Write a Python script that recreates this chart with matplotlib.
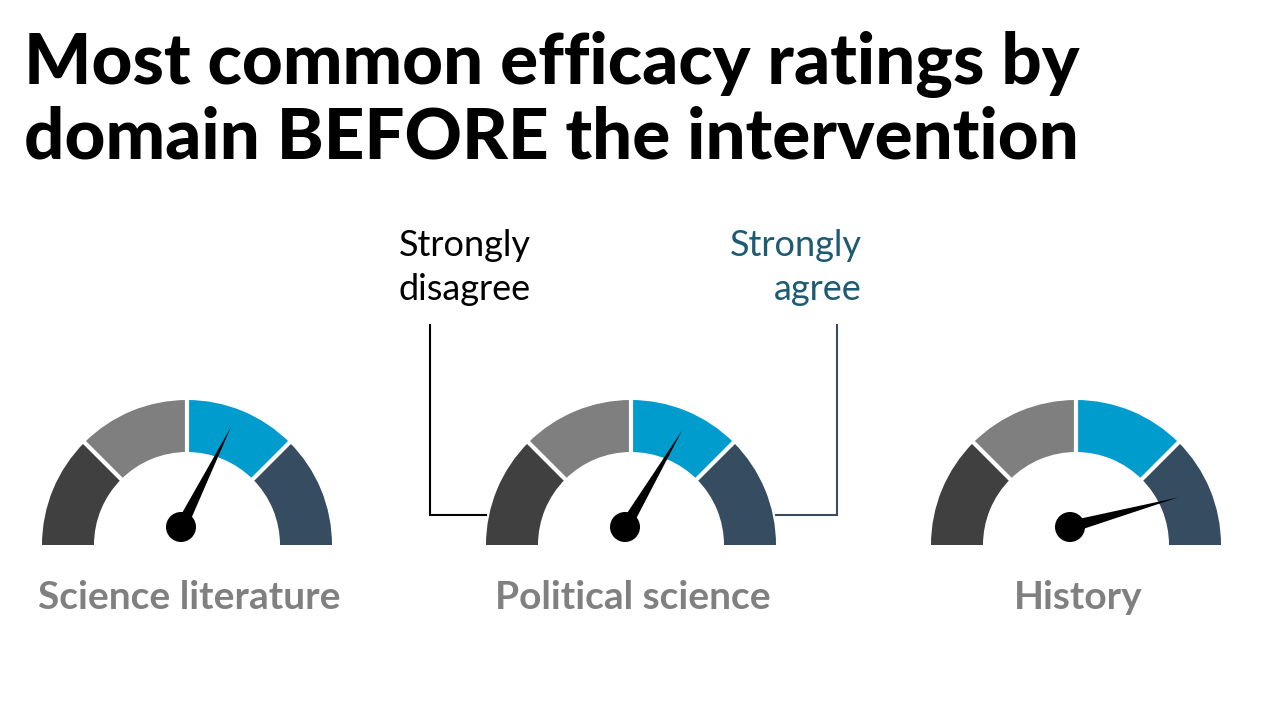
import numpy as np
import matplotlib
matplotlib.use("Agg")
import matplotlib.pyplot as plt
from matplotlib.patches import Wedge, Circle, Polygon

# ---------------------------------------------------------------------------
# data
# ---------------------------------------------------------------------------
DOMAINS = ["Science literature", "Political science", "History"]
NEEDLE_VALUES = [2.59, 2.68, 3.66]
SCALE_MAX = 4
SEGMENT_COLORS = ["#404040", "#7f7f7f", "#009ccd", "#364d61"]   # disagree -> agree

TITLE = "Most common efficacy ratings by\ndomain BEFORE the intervention"
LOW_LABEL = "Strongly\ndisagree"
HIGH_LABEL = "Strongly\nagree"

# layout (pixel space, y measured upward)
CENTERS_X = [187, 631, 1076]
CENTER_Y = 720 - 545
R_OUT, R_IN = 145, 93
PIVOT_DX, PIVOT_DY = -6, 18
NEEDLE_LEN = 112

TEAL = "#1d5b73"
GREY_TXT = "#808080"

plt.rcParams["font.family"] = ["Lato", "DejaVu Sans"]

fig = plt.figure(figsize=(12.8, 7.2), dpi=100, facecolor="white")
ax = fig.add_axes([0, 0, 1, 1])
ax.set_xlim(0, 1280)
ax.set_ylim(0, 720)
ax.axis("off")

n_seg = len(SEGMENT_COLORS)
for cx, val, name in zip(CENTERS_X, NEEDLE_VALUES, DOMAINS):
    # coloured arc segments, left (180 deg) to right (0 deg)
    for i, col in enumerate(SEGMENT_COLORS):
        t1 = 180 - (i + 1) * 180 / n_seg
        t2 = 180 - i * 180 / n_seg
        ax.add_patch(Wedge((cx, CENTER_Y), R_OUT, t1, t2, width=R_OUT - R_IN,
                           facecolor=col, edgecolor="none", zorder=2))
    # white separators
    for i in range(1, n_seg):
        a = np.deg2rad(180 - i * 180 / n_seg)
        ax.plot([cx + (R_IN - 2) * np.cos(a), cx + (R_OUT + 2) * np.cos(a)],
                [CENTER_Y + (R_IN - 2) * np.sin(a), CENTER_Y + (R_OUT + 2) * np.sin(a)],
                color="white", lw=3, solid_capstyle="butt", zorder=3)

    # needle
    px, py = cx + PIVOT_DX, CENTER_Y + PIVOT_DY
    ang = np.deg2rad(180 * (1 - val / SCALE_MAX))
    perp = ang + np.pi / 2
    hw = 6
    tip = (px + NEEDLE_LEN * np.cos(ang), py + NEEDLE_LEN * np.sin(ang))
    ax.add_patch(Polygon([(px + hw * np.cos(perp), py + hw * np.sin(perp)), tip,
                          (px - hw * np.cos(perp), py - hw * np.sin(perp))],
                         closed=True, facecolor="black", edgecolor="none", zorder=4))
    ax.add_patch(Circle((px, py), 15, facecolor="black", edgecolor="none", zorder=5))

    ax.text(cx + 2, 720 - 609, name, ha="center", va="baseline", fontsize=28,
            fontweight="bold", color=GREY_TXT)

# bracket annotation on the middle gauge
mid = CENTERS_X[1]
ax.plot([430, 430, mid - R_OUT], [720 - 325, 720 - 515, 720 - 515],
        color="black", lw=1.5, zorder=1, solid_joinstyle="miter")
ax.plot([837, 837, mid + R_OUT], [720 - 325, 720 - 515, 720 - 515],
        color="#364d61", lw=1.5, zorder=1, solid_joinstyle="miter")
ax.text(399, 720 - 229, LOW_LABEL, ha="left", va="top", fontsize=26,
        fontweight="normal", color="black", linespacing=1.42)
ax.text(862, 720 - 229, HIGH_LABEL, ha="right", va="top", fontsize=26,
        fontweight="normal", color=TEAL, linespacing=1.42, multialignment="right")

fig.text(24 / 1280, 1 - 31 / 720, TITLE, ha="left", va="top", fontsize=51,
         fontweight="black", color="black", linespacing=1.14)

fig.savefig("out.png", dpi=100, facecolor="white")
